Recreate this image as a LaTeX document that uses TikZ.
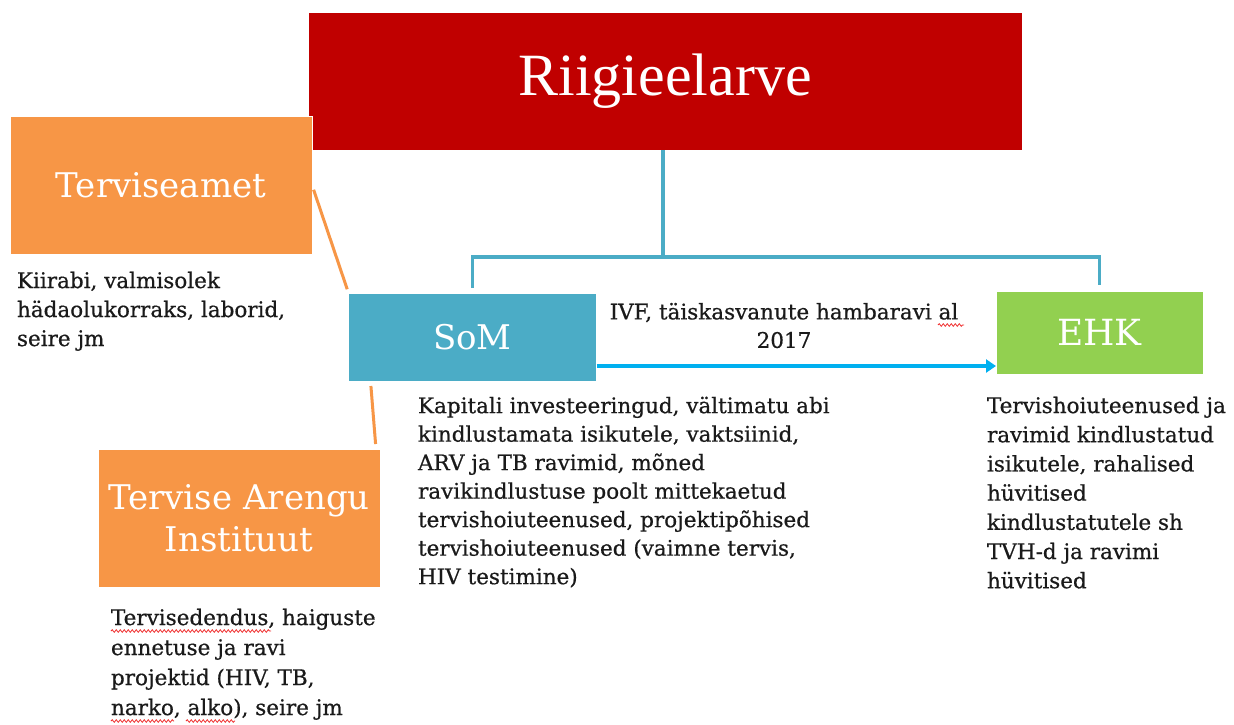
\documentclass[tikz,border=0pt]{standalone}
\usepackage{fontspec}
\setmainfont{DejaVu Serif}
\newfontfamily\titlefont{Liberation Serif}
\newfontfamily\descfont[FakeBold=0.6]{DejaVu Serif}
\usetikzlibrary{arrows.meta,decorations.pathmorphing}
\definecolor{cRed}{HTML}{C00000}
\definecolor{cOrange}{HTML}{F79646}
\definecolor{cBlue}{HTML}{4BACC6}
\definecolor{cGreen}{HTML}{92D050}
\definecolor{cArrow}{HTML}{00B0F0}
\definecolor{cSquig}{HTML}{F03030}
\definecolor{cText}{HTML}{1A1A1A}
\begin{document}
\begin{tikzpicture}[x=1pt,y=-1pt,
  box/.style={rectangle, draw=white, line width=1pt, inner sep=0pt, outer sep=0pt,
    text=white, align=center, font=\fontsize{34}{42}\selectfont},
  desc/.style={anchor=north west, inner sep=0pt, outer sep=0pt, align=left, text=cText},
  conn/.style={draw=cBlue, line width=3.5pt},
  oline/.style={draw=cOrange, line width=3pt},
  arrowline/.style={draw=cArrow, line width=4.5pt, -{Triangle[length=10pt,width=13pt]}},
  squig/.style={draw=cSquig, line width=0.8pt, decorate,
    decoration={snake, amplitude=1.3pt, segment length=4pt}}]
\useasboundingbox[fill=white] (0,0) rectangle (1234,724);

% boxes
\node[box, fill=cRed, minimum width=714pt, minimum height=138pt,
  font=\titlefont\fontsize{60}{70}\selectfont] (red) at (665,81) {Riigieelarve};
\node[box, fill=cOrange, minimum width=302pt, minimum height=138pt] (ta) at (161,185) {Terviseamet};
\node[box, fill=cBlue, minimum width=248pt, minimum height=88pt] (som) at (472.5,337) {SoM};
\node[box, fill=cGreen, minimum width=207pt, minimum height=83pt,
  font=\fontsize{36}{42}\selectfont] (ehk) at (1099.5,332.5) {EHK};
\node[box, fill=cOrange, minimum width=282pt, minimum height=138pt] (tai) at (239,518) {Tervise Arengu\\Instituut};

% descriptions
\node[desc, font=\descfont\fontsize{21.5}{29}\selectfont] (d1) at (17,271.7)
  {Kiirabi, valmisolek\\hädaolukorraks, laborid,\\seire jm};
\node[desc, font=\descfont\fontsize{21.5}{28.5}\selectfont] (d2) at (418,396.7)
  {Kapitali investeeringud, vältimatu abi\\kindlustamata isikutele, vaktsiinid,\\ARV ja TB ravimid, mõned\\ravikindlustuse poolt mittekaetud\\tervishoiuteenused, projektipõhised\\tervishoiuteenused (vaimne tervis,\\HIV testimine)};
\node[desc, font=\descfont\fontsize{21.5}{29.2}\selectfont] (d3) at (987,396.7)
  {Tervishoiuteenused ja\\ravimid kindlustatud\\isikutele, rahalised\\hüvitised\\kindlustatutele sh\\TVH-d ja ravimi\\hüvitised};
\node[desc, font=\descfont\fontsize{21.5}{30}\selectfont] (d4) at (111,608.7)
  {Tervisedendus, haiguste\\ennetuse ja ravi\\projektid (HIV, TB,\\narko, alko), seire jm};

% connectors
\coordinate (j) at (663,257);
\draw[conn] (red.south -| j) -- (j);
\draw[conn] (j) -| ([yshift=5pt]som.north);
\draw[conn] (j) -| ([yshift=6pt]ehk.north);

\draw[oline, shorten <=5pt, shorten >=4pt] (ta.east) -- (som.north west);
\draw[oline, shorten <=5pt, shorten >=5pt] ([xshift=22pt]som.south west) -- ([xshift=-4pt]tai.north east);

\draw[arrowline] ([yshift=-29pt]som.east) -- ([yshift=-29pt]som.east -| ehk.west);
\node[anchor=north, align=center, inner sep=0pt, text=cText,
  font=\descfont\fontsize{21.5}{28.5}\selectfont]
  (lbl) at (784,302.7) {IVF, täiskasvanute hambaravi al\\2017};

% spell-check squiggles
\draw[squig] (938,325) -- (964,325);
\draw[squig] (111,631) -- (271,631);
\draw[squig] (111,721) -- (174,721);
\draw[squig] (186,721) -- (235,721);
\end{tikzpicture}
\end{document}
